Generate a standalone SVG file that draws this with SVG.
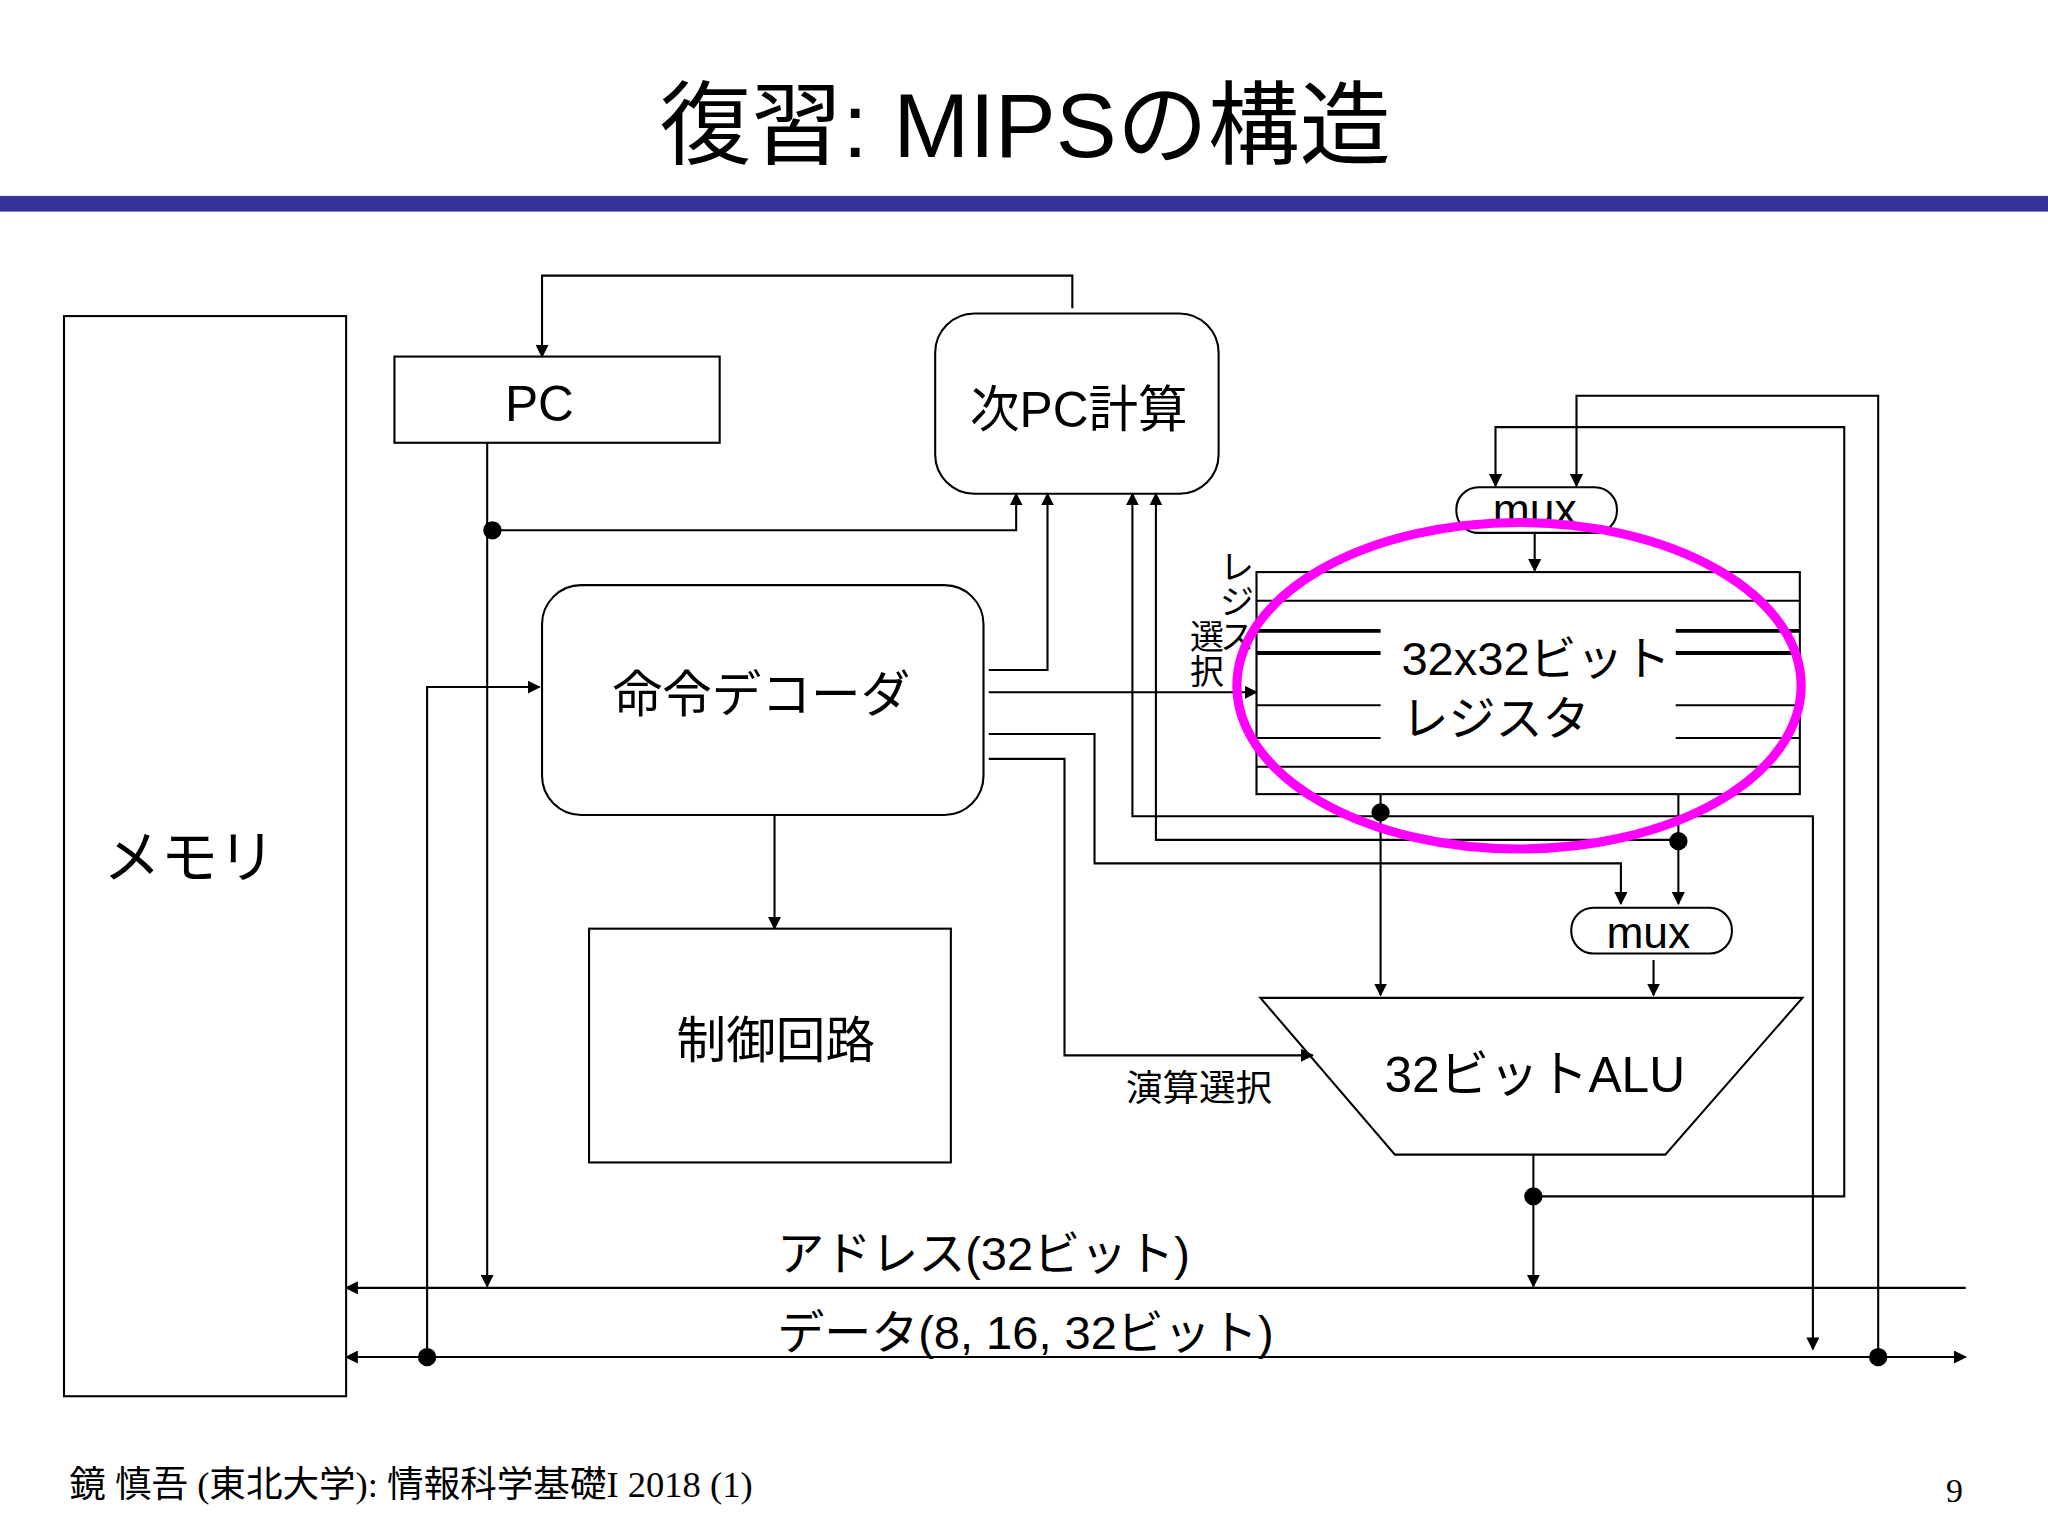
<svg xmlns="http://www.w3.org/2000/svg" width="2048" height="1536" viewBox="0 0 2048 1536">
<defs>
<marker id="a" markerWidth="10" markerHeight="10" refX="9" refY="5" orient="auto" markerUnits="userSpaceOnUse"><path d="M0,0 L10,5 L0,10 z" fill="#000"/></marker>
<marker id="s" markerWidth="10" markerHeight="10" refX="1" refY="5" orient="auto" markerUnits="userSpaceOnUse"><path d="M10,0 L0,5 L10,10 z" fill="#000"/></marker>
<style>
.b{fill:#fff;stroke:#000;stroke-width:1.6}
.l{fill:none;stroke:#000;stroke-width:1.6}
.t{font-family:"Liberation Sans","Noto Sans CJK JP",sans-serif;fill:#000}
</style>
</defs>
<rect width="2048" height="1536" fill="#fff"/>
<g transform="scale(1.30612)">
<text class="t" x="785" y="120" font-size="70" text-anchor="middle">復習: MIPSの構造</text>
<rect x="0" y="150" width="1568" height="12" fill="#333399"/>
<g id="memory"><rect class="b" x="49" y="242" width="216" height="827"/><text class="t" x="145" y="672" font-size="44" text-anchor="middle">メモリ</text></g>
<g id="pc"><rect class="b" x="302" y="273" width="249" height="66"/><text class="t" x="413" y="322" font-size="38" text-anchor="middle">PC</text></g>
<g id="nextpc"><rect class="b" x="716" y="240" width="217" height="138" rx="30"/><text class="t" x="826" y="327" font-size="38" text-anchor="middle">次PC計算</text></g>
<g id="decoder"><rect class="b" x="415" y="448" width="338" height="176" rx="30"/><text class="t" x="583" y="545" font-size="38" text-anchor="middle">命令デコーダ</text></g>
<g id="control"><rect class="b" x="451" y="711" width="277" height="179"/><text class="t" x="594" y="810" font-size="38" text-anchor="middle">制御回路</text></g>
<g id="regfile">
<rect class="b" x="962" y="438" width="416" height="170"/>
<path class="l" d="M962,460H1378M962,587H1378"/>
<path fill="none" stroke="#000" stroke-width="3" d="M962,483H1057M962,500H1057M1283,483H1378M1283,500H1378"/>
<path class="l" d="M962,540H1057M962,565H1057M1283,540H1378M1283,565H1378"/>
<text class="t" x="1073" y="517" font-size="36">32x32ビット</text>
<text class="t" x="1073" y="563" font-size="36">レジスタ</text>
<g class="t" font-size="26" text-anchor="middle"><text x="947" y="443">レ</text><text x="947" y="470">ジ</text><text x="947" y="497">ス</text><text x="924" y="497">選</text><text x="924" y="524">択</text></g>
</g>
<g id="mux1"><rect class="b" x="1115" y="373" width="123" height="35" rx="17"/><text class="t" x="1175" y="402" font-size="34" text-anchor="middle">mux</text></g>
<g id="mux2"><rect class="b" x="1203" y="695" width="123" height="35" rx="17"/><text class="t" x="1262" y="726" font-size="34" text-anchor="middle">mux</text></g>
<g id="alu"><path class="b" d="M965,764H1380L1275,884H1068z"/><text class="t" x="1175" y="836" font-size="38" text-anchor="middle">32ビットALU</text></g>
<g id="connectors">
<path class="l" d="M821,236V211H415V273" marker-end="url(#a)"/>
<path class="l" d="M373,339V985" marker-end="url(#a)"/>
<path class="l" d="M373,406H778V378" marker-end="url(#a)"/>
<path class="l" d="M757,513H802V378" marker-end="url(#a)"/>
<path class="l" d="M757,530H962" marker-end="url(#a)"/>
<path class="l" d="M757,562H838V661H1241V692" marker-end="url(#a)"/>
<path class="l" d="M757,581H815V808H1005" marker-end="url(#a)"/>
<path class="l" d="M593,624V711" marker-end="url(#a)"/>
<path class="l" d="M1505,986H265" marker-end="url(#a)"/>
<path class="l" d="M265,1039H1505" marker-start="url(#s)" marker-end="url(#a)"/>
<path class="l" d="M327,1039V526H413" marker-end="url(#a)"/>
<path class="l" d="M1175,408V437" marker-end="url(#a)"/>
<path class="l" d="M1174,916H1412V327H1145V372" marker-end="url(#a)"/>
<path class="l" d="M1438,1039V303H1207V372" marker-end="url(#a)"/>
<path class="l" d="M1057,608V762" marker-end="url(#a)"/>
<path class="l" d="M1285,608V692" marker-end="url(#a)"/>
<path class="l" d="M1057,625H867V378" marker-end="url(#a)"/>
<path class="l" d="M1057,625H1388V1033" marker-end="url(#a)"/>
<path class="l" d="M1285,643H885V378" marker-end="url(#a)"/>
<path class="l" d="M1266,735V762" marker-end="url(#a)"/>
<path class="l" d="M1174,884V985" marker-end="url(#a)"/>
<g fill="#000"><circle cx="377" cy="406" r="7"/><circle cx="327" cy="1039" r="7"/><circle cx="1057" cy="622" r="7"/><circle cx="1285" cy="644" r="7"/><circle cx="1174" cy="916" r="7"/><circle cx="1438" cy="1039" r="7"/></g>
</g>
<text class="t" x="595" y="972" font-size="36">アドレス(32ビット)</text>
<text class="t" x="595" y="1033" font-size="36">データ(8, 16, 32ビット)</text>
<text class="t" x="918" y="843" font-size="28" text-anchor="middle">演算選択</text>
<ellipse cx="1163" cy="525" rx="216" ry="125" fill="none" stroke="#ff00ff" stroke-width="7"/>
<text x="53" y="1146" font-size="28" font-family="Liberation Serif,'Noto Sans CJK JP',serif">鏡 慎吾 (東北大学): 情報科学基礎I 2018 (1)</text>
<text x="1490" y="1150" font-size="26" font-family="Liberation Serif,serif">9</text>
</g>
</svg>
